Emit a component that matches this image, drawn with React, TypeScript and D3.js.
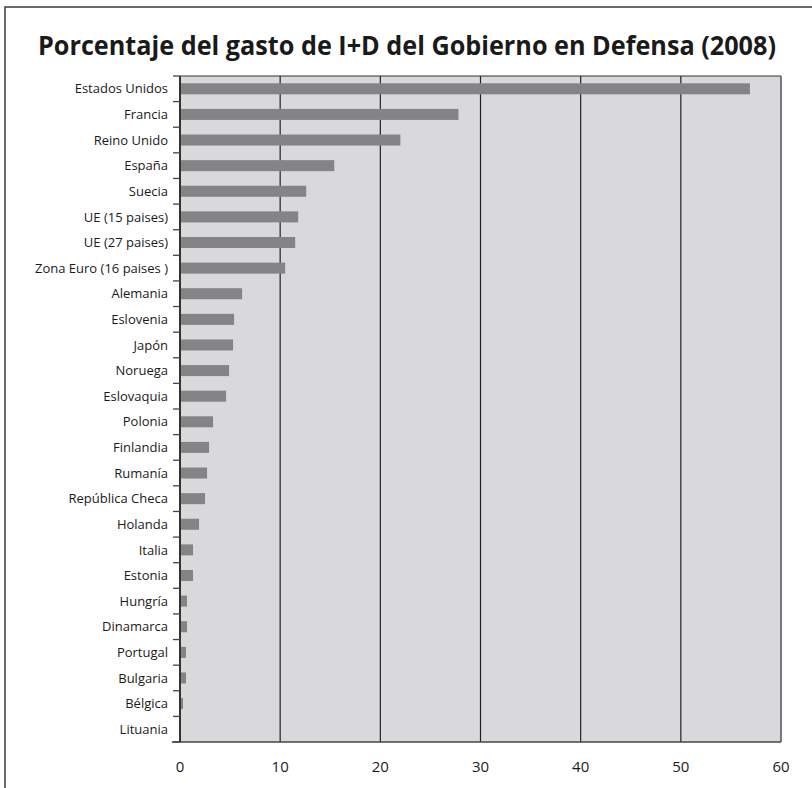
import React from "react";
import * as d3 from "d3";

const countries = [
  "Estados Unidos", "Francia", "Reino Unido", "España", "Suecia",
  "UE (15 paises)", "UE (27 paises)", "Zona Euro (16 paises )", "Alemania",
  "Eslovenia", "Japón", "Noruega", "Eslovaquia", "Polonia", "Finlandia",
  "Rumanía", "República Checa", "Holanda", "Italia", "Estonia", "Hungría",
  "Dinamarca", "Portugal", "Bulgaria", "Bélgica", "Lituania",
];
const values = [
  56.9, 27.8, 22.0, 15.4, 12.6, 11.8, 11.5, 10.5, 6.2, 5.4, 5.3, 4.9, 4.6,
  3.3, 2.9, 2.7, 2.5, 1.9, 1.3, 1.3, 0.7, 0.7, 0.6, 0.6, 0.3, 0,
];
const xTicks = [0, 10, 20, 30, 40, 50, 60];

const W = 812;
const H = 788;
const margin = { top: 76, right: 31, bottom: 46, left: 180 };
const font = "'Open Sans', 'DejaVu Sans', sans-serif";

export default function App() {
  const x = d3.scaleLinear().domain([0, 60]).range([margin.left, W - margin.right]);
  const y = d3
    .scaleBand()
    .domain(countries)
    .range([margin.top, H - margin.bottom])
    .paddingInner(0.57)
    .paddingOuter(0.285);
  const step = y.step();
  const top = margin.top;
  const bottom = H - margin.bottom;
  const boundaries = d3.range(countries.length + 1).map((i) => top + i * step);

  return (
    <svg width={W} height={H} style={{ position: "absolute", left: 0, top: 0, background: "#fff" }}>
      {/* frame */}
      <path d={`M5,${H + 5} L5,7 L${W + 5},7`} fill="none" stroke="#3a3a3a" strokeWidth={1.5} />

      <text
        x={38}
        y={55}
        fontFamily={font}
        fontWeight={700}
        fontSize={27}
        fill="#1a1a1a"
        textLength={738}
        lengthAdjust="spacingAndGlyphs"
      >
        Porcentaje del gasto de I+D del Gobierno en Defensa (2008)
      </text>

      <rect x={x(0)} y={top} width={x(60) - x(0)} height={bottom - top} fill="#d9d9db" />

      {xTicks.slice(1, -1).map((t) => (
        <line key={t} x1={x(t)} x2={x(t)} y1={top} y2={bottom} stroke="#222" strokeWidth={1.2} />
      ))}

      {countries.map((c, i) => (
        <rect
          key={c}
          x={x(0)}
          y={y(c)}
          width={x(values[i]) - x(0)}
          height={y.bandwidth()}
          fill="#848487"
        />
      ))}

      {/* plot border */}
      <line x1={x(0)} x2={x(60)} y1={top} y2={top} stroke="#333" strokeWidth={1.2} />
      <line x1={x(60)} x2={x(60)} y1={top} y2={bottom} stroke="#555" strokeWidth={1.5} />
      <line x1={x(0) - 8} x2={x(60)} y1={bottom} y2={bottom} stroke="#444" strokeWidth={1.5} />
      <line x1={x(0)} x2={x(0)} y1={top} y2={bottom} stroke="#333" strokeWidth={2} />

      {boundaries.map((b, i) => (
        <line key={i} x1={x(0) - 7} x2={x(0)} y1={b} y2={b} stroke="#444" strokeWidth={1.3} />
      ))}

      {countries.map((c) => (
        <text
          key={c}
          x={168}
          y={(y(c) || 0) + y.bandwidth() / 2}
          dy="0.36em"
          textAnchor="end"
          fontFamily={font}
          fontSize={13}
          fill="#1a1a1a"
        >
          {c}
        </text>
      ))}

      {xTicks.map((t) => (
        <text
          key={t}
          x={x(t)}
          y={772}
          textAnchor="middle"
          fontFamily={font}
          fontSize={15}
          fill="#1a1a1a"
        >
          {t}
        </text>
      ))}
    </svg>
  );
}
